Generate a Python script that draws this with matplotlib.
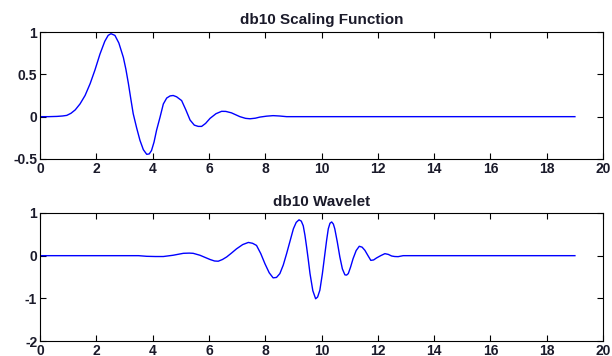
import matplotlib
matplotlib.use("Agg")
import matplotlib.pyplot as plt

# values
phi_x = [0, 0.3, 0.6, 0.8, 0.95, 1.1, 1.25, 1.42, 1.6, 1.78, 1.95, 2.13, 2.3, 2.42, 2.52,
         2.66, 2.8, 2.96, 3.05, 3.14, 3.22, 3.31, 3.43, 3.55, 3.67, 3.79, 3.88, 3.96,
         4.05, 4.14, 4.26, 4.38, 4.5, 4.62, 4.73, 4.85, 5.03, 5.18, 5.33, 5.48, 5.62,
         5.74, 5.88, 6.04, 6.25, 6.45, 6.6, 6.8, 7.1, 7.3, 7.46, 7.65, 7.81, 8.05,
         8.28, 8.5, 8.76, 9.2, 19]
phi_y = [0, 0, 0.003, 0.008, 0.015, 0.04, 0.08, 0.15, 0.25, 0.39, 0.55, 0.74, 0.89, 0.96, 0.98,
         0.96, 0.87, 0.70, 0.56, 0.39, 0.22, 0.035, -0.13, -0.28, -0.39, -0.445, -0.44, -0.40,
         -0.30, -0.16, -0.01, 0.15, 0.22, 0.245, 0.25, 0.235, 0.19, 0.08, -0.04, -0.10, -0.115,
         -0.115, -0.08, -0.02, 0.035, 0.063, 0.062, 0.045, 0.0, -0.02, -0.025, -0.018, -0.005, 0.006,
         0.012, 0.008, 0.0, 0.0, 0.0]

psi_x = [0, 3.5, 3.79, 4.1, 4.38, 4.73, 5.09, 5.3, 5.44, 5.68, 5.86, 6.04, 6.2, 6.33, 6.48,
         6.63, 6.8, 6.98, 7.2, 7.40, 7.55, 7.69, 7.84, 7.99, 8.14, 8.28, 8.4, 8.52, 8.64,
         8.76, 8.88, 9.0, 9.1, 9.2, 9.28, 9.35, 9.41, 9.47, 9.53, 9.59, 9.69, 9.79, 9.86,
         9.94, 10.03, 10.12, 10.18, 10.24, 10.3, 10.36, 10.42, 10.47, 10.56, 10.65, 10.74,
         10.83, 10.89, 10.95, 11.03, 11.12, 11.23, 11.34, 11.44, 11.54, 11.65, 11.75, 11.85,
         11.95, 12.1, 12.25, 12.37, 12.49, 12.6, 12.72, 12.9, 19]
psi_y = [0, 0, -0.015, -0.02, -0.02, 0.01, 0.055, 0.06, 0.055, 0.01, -0.04, -0.09, -0.125, -0.13, -0.09,
         -0.03, 0.06, 0.16, 0.26, 0.31, 0.29, 0.24, 0.05, -0.19, -0.40, -0.52, -0.51, -0.42, -0.22,
         0.05, 0.34, 0.63, 0.78, 0.84, 0.81, 0.70, 0.48, 0.2, -0.1, -0.42, -0.82, -1.01, -0.97,
         -0.81, -0.42, 0.05, 0.36, 0.63, 0.76, 0.79, 0.74, 0.63, 0.32, -0.03, -0.31,
         -0.45, -0.455, -0.42, -0.27, -0.07, 0.12, 0.22, 0.20, 0.125, 0.0, -0.11, -0.10,
         -0.055, 0.0, 0.047, 0.03, -0.008, -0.02, -0.023, 0.0, 0.0]

plt.rcParams['font.family'] = ['Liberation Sans', 'DejaVu Sans']

fig = plt.figure(figsize=(6.12, 3.56), dpi=100)
ax1 = fig.add_axes([0.0654, 0.5534, 0.92, 0.3567])
ax2 = fig.add_axes([0.0654, 0.0421, 0.92, 0.3596])

def style(ax, yticks, ylim, title, pad):
    ax.set_xlim(0, 20)
    ax.set_ylim(*ylim)
    ax.set_xticks(range(0, 21, 2))
    ax.set_yticks(yticks)
    ax.set_yticklabels([('%g' % t) for t in yticks])
    ax.tick_params(direction='in', top=True, right=True, length=4, width=0.8,
                   labelsize=10, pad=2, labelcolor='#1a1a2a')
    for lab in ax.get_xticklabels() + ax.get_yticklabels():
        lab.set_fontweight('bold')
    for s in ax.spines.values():
        s.set_linewidth(0.8)
    ax.set_title(title, fontsize=11, fontweight='bold', color='#1a1a2a', pad=pad)

ax1.plot(phi_x, phi_y, color='#0000ff', lw=1)
style(ax1, [-0.5, 0, 0.5, 1], (-0.5, 1), 'db10 Scaling Function', 6)

ax2.plot(psi_x, psi_y, color='#0000ff', lw=1)
style(ax2, [-2, -1, 0, 1], (-2, 1), 'db10 Wavelet', 5)

fig.savefig('out.png', dpi=100)
